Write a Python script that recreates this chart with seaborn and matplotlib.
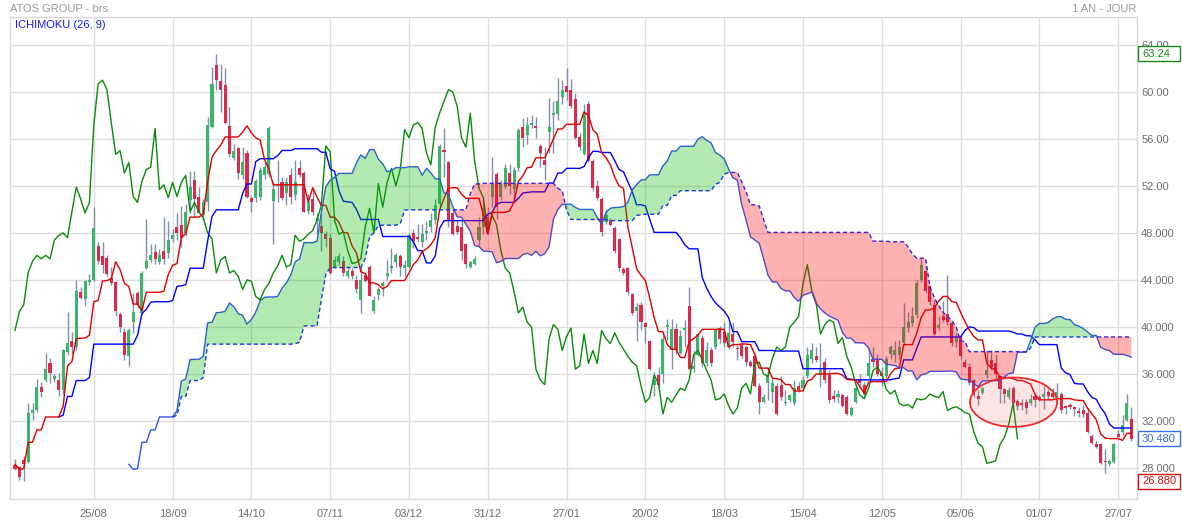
import numpy as np
import pandas as pd
import matplotlib
matplotlib.use("Agg")
import matplotlib.pyplot as plt
import matplotlib.transforms as mtransforms
from matplotlib.patches import Ellipse, Rectangle
import seaborn as sns

# daily candles, oldest first
open_price = [
    28.26, 28.1, 28.7, 28.5, 32.7, 32.9, 34.9, 35.5, 36.9, 35.6,
    35.5, 34.6, 37.9, 38.8, 38.3, 43.0, 42.4, 43.8, 44.0, 46.9,
    46.0, 45.9, 44.2, 43.8, 41.1, 39.6, 37.5, 40.4, 42.9, 41.2,
    45.0, 45.7, 46.4, 45.5, 46.5, 46.3, 47.5, 48.5, 48.7, 48.0,
    50.8, 52.5, 51.1, 49.5, 50.6, 57.0, 62.3, 60.9, 60.6, 57.1,
    54.4, 55.2, 52.9, 54.8, 51.0, 51.0, 51.1, 52.9, 53.0, 50.7,
    52.0, 52.3, 51.4, 52.9, 51.2, 53.5, 53.1, 49.9, 50.9, 49.0,
    48.6, 47.9, 47.6, 45.1, 45.5, 45.6, 44.3, 44.8, 44.0, 42.3,
    44.4, 45.1, 41.4, 42.7, 43.5, 44.3, 45.0, 45.5, 46.0, 45.0,
    45.1, 48.0, 47.6, 47.2, 48.0, 48.5, 49.1, 50.5, 55.1, 54.0,
    49.7, 48.6, 48.5, 47.1, 45.1, 45.4, 47.4, 48.5, 49.4, 51.1,
    53.0, 51.1, 51.9, 53.1, 51.7, 53.5, 57.0, 56.3, 57.2, 57.1,
    55.4, 54.2, 56.6, 58.0, 58.1, 59.6, 60.5, 60.2, 59.4, 56.2,
    54.7, 59.0, 54.1, 52.0, 50.9, 48.9, 49.1, 48.4, 47.5, 44.9,
    45.0, 42.8, 41.4, 41.9, 40.3, 38.8, 35.1, 35.9, 36.0, 40.0,
    38.0, 39.8, 37.8, 39.7, 41.8, 36.4, 37.6, 39.1, 36.9, 38.0,
    38.3, 39.9, 39.6, 38.3, 39.4, 38.2, 38.5, 38.3, 37.0, 37.5,
    35.0, 33.6, 35.2, 34.5, 35.0, 35.1, 33.5, 33.8, 33.5, 35.0,
    34.8, 35.8, 37.3, 37.5, 35.9, 37.0, 35.9, 34.1, 34.0, 34.2,
    34.0, 32.5, 33.6, 35.5, 35.1, 35.8, 37.3, 37.3, 36.1, 35.8,
    37.7, 37.6, 37.6, 38.6, 39.9, 40.3, 41.0, 44.0, 44.8, 43.5,
    41.9, 39.9, 40.9, 41.1, 40.3, 38.7, 39.2, 37.0, 36.6, 35.5,
    34.1, 34.4, 35.9, 37.2, 36.9, 35.8, 34.7, 34.0, 34.8, 33.7,
    33.5, 33.6, 33.5, 34.1, 34.0, 34.0, 34.5, 34.4, 34.0, 34.3,
    33.3, 33.4, 33.2, 32.8, 32.9, 32.7, 30.7, 30.0, 30.0, 28.6,
    28.3, 28.5, 30.9, 31.1, 32.1, 32.2,
]
high_price = [
    28.8, 28.2, 29.0, 33.5, 33.5, 35.6, 35.3, 37.8, 37.4, 36.0,
    36.1, 38.1, 41.3, 39.6, 44.0, 43.4, 44.0, 44.5, 50.2, 47.2,
    47.2, 46.1, 45.1, 43.9, 41.3, 39.9, 39.9, 42.9, 43.1, 44.8,
    49.2, 47.1, 47.1, 46.6, 49.4, 49.0, 48.3, 49.7, 50.3, 50.5,
    53.3, 53.3, 51.9, 50.9, 57.9, 62.1, 63.24, 62.4, 62.0, 58.7,
    55.6, 55.3, 55.3, 55.1, 51.2, 52.6, 53.6, 54.0, 57.1, 52.3,
    54.2, 52.8, 52.8, 53.5, 54.2, 54.2, 53.3, 51.3, 51.8, 49.7,
    49.7, 48.2, 47.9, 46.0, 46.3, 46.0, 45.1, 45.0, 44.4, 45.1,
    44.6, 45.3, 42.6, 43.4, 43.9, 45.7, 46.7, 46.3, 46.2, 45.7,
    48.0, 48.3, 48.8, 48.8, 49.0, 49.7, 50.9, 55.6, 56.9, 54.1,
    50.0, 49.1, 49.1, 47.1, 45.6, 46.0, 49.4, 50.8, 50.2, 54.5,
    53.2, 52.5, 53.9, 53.9, 53.6, 56.9, 57.8, 57.9, 58.0, 57.9,
    55.6, 55.3, 59.5, 59.2, 61.2, 61.0, 62.0, 61.1, 59.9, 56.5,
    59.0, 59.2, 54.3, 52.5, 51.1, 50.0, 49.3, 48.6, 47.5, 45.1,
    45.1, 42.9, 42.0, 42.1, 40.4, 38.9, 36.2, 36.6, 39.4, 40.7,
    40.7, 40.3, 39.7, 40.6, 43.4, 38.0, 39.5, 39.3, 38.7, 38.3,
    39.8, 40.1, 40.4, 40.3, 40.4, 38.5, 38.7, 38.5, 37.2, 37.7,
    35.2, 34.3, 36.6, 35.7, 35.2, 35.8, 34.6, 34.3, 35.5, 35.3,
    35.8, 38.3, 38.6, 38.3, 38.6, 37.4, 36.3, 34.6, 34.6, 34.4,
    34.2, 33.3, 35.0, 36.0, 35.3, 38.2, 38.3, 37.7, 36.6, 37.5,
    38.5, 38.8, 38.9, 42.0, 41.3, 41.7, 44.0, 45.9, 45.2, 43.6,
    42.3, 40.9, 42.2, 44.4, 40.4, 39.6, 39.3, 37.3, 36.9, 35.6,
    34.6, 34.9, 38.0, 38.0, 37.7, 35.9, 34.8, 34.9, 35.0, 33.9,
    33.9, 33.9, 34.3, 34.4, 34.2, 35.0, 34.7, 34.8, 35.2, 34.5,
    33.4, 33.5, 33.3, 33.2, 33.4, 33.1, 30.9, 30.3, 30.1, 29.6,
    28.8, 30.1, 31.2, 32.5, 34.3, 33.2,
]
low_price = [
    27.83, 26.98, 26.88, 28.4, 32.1, 32.8, 34.0, 35.3, 35.2, 35.3,
    34.1, 34.3, 37.6, 37.7, 38.0, 42.4, 41.8, 43.6, 43.9, 45.4,
    44.6, 44.3, 43.6, 40.9, 39.6, 37.2, 36.7, 39.5, 41.6, 41.1,
    44.9, 45.5, 45.4, 45.4, 45.4, 45.9, 47.2, 47.4, 46.8, 47.7,
    49.7, 49.4, 49.7, 49.1, 49.9, 56.9, 60.2, 58.3, 57.3, 54.5,
    54.2, 52.6, 52.6, 51.0, 49.8, 50.6, 50.8, 52.6, 52.8, 47.1,
    50.6, 50.8, 50.4, 50.5, 50.8, 52.8, 49.8, 49.6, 49.5, 47.9,
    46.5, 46.8, 44.5, 45.0, 45.3, 44.3, 44.2, 44.1, 42.9, 41.2,
    43.8, 42.6, 41.2, 42.3, 42.6, 44.0, 44.6, 45.1, 44.3, 44.3,
    45.0, 46.7, 47.2, 46.8, 47.4, 48.1, 48.8, 50.2, 52.8, 48.5,
    47.8, 47.9, 45.7, 45.0, 45.0, 45.3, 46.8, 47.9, 47.9, 50.2,
    49.2, 50.8, 51.7, 51.3, 50.8, 53.3, 55.3, 55.6, 56.9, 56.1,
    53.6, 52.5, 54.8, 54.8, 57.6, 59.0, 59.3, 58.6, 56.0, 55.1,
    54.6, 54.0, 51.6, 50.8, 47.7, 48.8, 48.6, 46.3, 44.8, 44.4,
    42.7, 41.0, 38.8, 39.7, 38.6, 36.3, 34.1, 34.6, 35.2, 38.9,
    36.4, 37.7, 37.7, 38.3, 36.3, 36.2, 37.5, 36.6, 36.7, 36.7,
    38.1, 38.6, 38.3, 38.1, 38.3, 37.2, 37.4, 36.7, 36.6, 34.9,
    32.6, 33.5, 33.8, 33.5, 32.5, 33.8, 33.4, 33.6, 33.4, 34.5,
    34.6, 35.7, 36.9, 37.0, 34.9, 35.2, 33.5, 33.6, 33.5, 33.2,
    32.5, 32.4, 33.5, 34.8, 34.1, 35.7, 36.6, 35.8, 35.0, 35.7,
    37.3, 37.0, 37.3, 38.5, 39.6, 40.1, 40.8, 43.8, 42.9, 41.9,
    39.3, 39.7, 40.4, 40.2, 38.4, 38.3, 37.3, 36.5, 35.1, 34.0,
    33.4, 34.3, 35.7, 36.3, 35.7, 33.5, 33.5, 33.9, 33.2, 32.9,
    32.9, 32.6, 33.4, 33.2, 33.7, 33.0, 33.9, 33.9, 33.5, 32.7,
    32.6, 33.0, 32.4, 32.3, 32.3, 31.0, 30.0, 29.7, 28.3, 27.6,
    28.2, 28.4, 30.6, 30.8, 32.0, 30.3,
]
close_price = [
    27.9, 27.2, 28.3, 32.7, 32.9, 34.9, 34.5, 36.4, 36.1, 35.8,
    34.6, 38.0, 38.6, 38.3, 43.1, 42.5, 43.9, 44.0, 48.4, 45.6,
    45.3, 44.5, 43.7, 41.4, 40.0, 37.6, 39.7, 41.3, 41.9, 44.6,
    45.6, 46.1, 45.8, 46.1, 45.8, 47.4, 47.8, 48.0, 47.6, 49.8,
    51.9, 50.9, 49.7, 50.6, 57.2, 60.7, 61.0, 60.2, 57.4, 54.7,
    55.0, 53.1, 54.0, 51.1, 50.6, 52.4, 53.4, 53.6, 56.9, 51.7,
    52.1, 51.0, 52.3, 51.1, 52.3, 52.9, 49.8, 50.6, 49.8, 49.3,
    48.0, 47.5, 44.6, 45.7, 46.0, 44.6, 44.8, 44.3, 43.2, 44.0,
    43.9, 42.6, 42.3, 43.2, 43.7, 44.6, 45.2, 46.1, 45.1, 45.3,
    47.8, 47.3, 47.5, 47.9, 48.2, 49.1, 50.4, 55.4, 54.9, 49.1,
    47.9, 48.1, 46.5, 45.4, 45.5, 45.8, 48.5, 50.1, 48.0, 52.2,
    50.2, 52.3, 53.5, 52.0, 53.4, 56.8, 56.1, 57.2, 57.4, 56.9,
    54.8, 53.8, 57.0, 58.2, 59.2, 60.2, 60.0, 58.8, 56.1, 55.3,
    58.2, 54.1, 51.8, 51.0, 48.1, 49.5, 48.7, 46.5, 45.0, 44.6,
    43.0, 41.2, 41.7, 40.4, 40.0, 36.4, 35.5, 35.1, 39.0, 40.2,
    39.8, 38.0, 39.2, 39.9, 36.4, 36.7, 39.4, 36.9, 38.0, 36.9,
    39.7, 39.0, 38.6, 39.5, 38.7, 38.1, 37.5, 37.0, 36.7, 35.0,
    33.6, 34.0, 35.9, 35.2, 32.6, 34.0, 33.6, 34.2, 34.8, 34.6,
    35.5, 37.6, 38.0, 37.2, 36.3, 35.5, 33.8, 33.9, 34.3, 33.3,
    32.6, 33.1, 34.8, 35.2, 34.3, 36.9, 37.0, 36.0, 35.8, 37.3,
    38.3, 38.0, 38.3, 40.0, 40.4, 40.9, 43.7, 45.3, 43.1, 42.1,
    39.4, 40.2, 40.6, 40.4, 38.6, 39.1, 37.5, 36.6, 35.2, 34.2,
    33.9, 34.8, 36.3, 36.6, 36.0, 34.7, 34.3, 34.6, 33.5, 33.3,
    33.4, 33.1, 33.9, 33.8, 33.9, 34.3, 34.1, 34.0, 34.5, 32.9,
    33.1, 33.2, 33.0, 32.7, 32.6, 31.1, 30.1, 29.8, 28.4, 28.5,
    28.6, 30.0, 30.6, 31.7, 33.5, 30.48,
]

date_ticks = [18, 36, 54, 72, 90, 108, 126, 144, 162, 180, 198, 216, 234, 252]
date_labels = ["25/08", "18/09", "14/10", "07/11", "03/12", "31/12", "27/01",
               "20/02", "18/03", "15/04", "12/05", "05/06", "01/07", "27/07"]
price_ticks = [28, 32, 36, 40, 44, 48, 52, 56, 60, 64]
price_labels = ["28.000", "32.000", "36.000", "40.000", "44.000", "48.000",
                "52.00", "56.00", "60.00", "64.00"]

# hand drawn circle on the chart (candle index, price)
circle_center = (228.1, 33.6)
circle_size = (19.9, 4.2)

TENKAN, KIJUN, SPAN_B, SHIFT = 9, 26, 52, 26

df = pd.DataFrame({"open": open_price, "high": high_price,
                   "low": low_price, "close": close_price})
df["i"] = np.arange(len(df))

hi, lo = df["high"], df["low"]
df["tenkan"] = (hi.rolling(TENKAN, min_periods=1).max() + lo.rolling(TENKAN, min_periods=1).min()) / 2
df["kijun"] = (hi.rolling(KIJUN, min_periods=11).max() + lo.rolling(KIJUN, min_periods=11).min()) / 2
df["span_a"] = df[["tenkan", "kijun"]].mean(axis=1).shift(SHIFT)
df["span_b"] = ((hi.rolling(SPAN_B, min_periods=11).max() + lo.rolling(SPAN_B, min_periods=11).min()) / 2).shift(SHIFT)
df["chikou"] = df["close"].shift(-SHIFT)

sns.set_theme(style="white")
plt.rcParams["font.family"] = ["Liberation Sans", "DejaVu Sans"]

W, H = 1182, 526
fig = plt.figure(figsize=(W / 100, H / 100), dpi=100)
ax = fig.add_axes([10 / W, 1 - 499 / H, 1127 / W, 482 / H])

green, red, wick = "#3cb46a", "#dc2a4c", "#7d91a8"
up = df["close"] >= df["open"]
body_lo = np.minimum(df["open"], df["close"])
body_h = np.maximum((df["close"] - df["open"]).abs(), 0.12)

ax.vlines(df["i"], df["low"], df["high"], color=wick, lw=1, zorder=2)
ax.bar(df["i"][up], body_h[up], bottom=body_lo[up], width=0.7, color=green, lw=0, zorder=3)
ax.bar(df["i"][~up], body_h[~up], bottom=body_lo[~up], width=0.7, color=red, lw=0, zorder=3)

sns.lineplot(data=df, x="i", y="chikou", color="#0a8a0a", lw=1, ax=ax, zorder=4)
sns.lineplot(data=df, x="i", y="kijun", color="#0000ff", lw=1, ax=ax, zorder=4)
sns.lineplot(data=df, x="i", y="tenkan", color="#dd0000", lw=1, ax=ax, zorder=4)
sns.lineplot(data=df, x="i", y="span_a", color="#3355ee", lw=1, ax=ax, zorder=4)
sns.lineplot(data=df, x="i", y="span_b", color="#2222ff", lw=1, ls=(0, (3, 2)), ax=ax, zorder=4)

cloud = df.dropna(subset=["span_a", "span_b"])
ax.fill_between(cloud["i"], cloud["span_a"], cloud["span_b"],
                where=cloud["span_a"] >= cloud["span_b"], interpolate=True,
                color="#00bb00", alpha=0.3, lw=0, zorder=5)
ax.fill_between(cloud["i"], cloud["span_a"], cloud["span_b"],
                where=cloud["span_a"] < cloud["span_b"], interpolate=True,
                color="#ff0000", alpha=0.3, lw=0, zorder=5)

ax.add_patch(Ellipse(circle_center, circle_size[0], circle_size[1],
                     facecolor=(0.95, 0.3, 0.3, 0.14), edgecolor="#ee2a2a", lw=1.3, zorder=6))

ax.set_xlim(-1.14, 256.3)
ax.set_ylim(25.36, 66.38)
ax.set_xticks(date_ticks)
ax.set_xticklabels(date_labels)
ax.yaxis.tick_right()
ax.set_yticks(price_ticks)
ax.set_yticklabels(price_labels)
ax.tick_params(length=0, labelsize=8, colors="#6e6e6e")
ax.tick_params(axis="x", pad=7)
ax.tick_params(axis="y", pad=3)
ax.set_xlabel("")
ax.set_ylabel("")
ax.grid(True, color="#dedede", lw=1)
ax.set_axisbelow(True)
for sp in ax.spines.values():
    sp.set_color("#d8d8d8")
    sp.set_linewidth(1)

# last / high / low markers on the price scale
trans = mtransforms.blended_transform_factory(fig.transFigure, ax.transData)
markers = [(max(high_price), "%.2f", "#1a8a1a"),
           (close_price[-1], "%.3f", "#3a6df0"),
           (min(low_price), "%.3f", "#cc1111")]
for val, fmt, col in markers:
    ax.add_patch(Rectangle((1138 / W, val - 0.64), 42 / W, 1.28, transform=trans,
                           facecolor="white", edgecolor=col, lw=1, clip_on=False, zorder=10))
    ax.text(1142 / W, val, fmt % val, transform=trans, color=col, fontsize=8,
            ha="left", va="center", zorder=11, clip_on=False)

fig.text(10 / W, 1 - 9 / H, "ATOS GROUP - brs", color="#999999", fontsize=8, ha="left", va="center")
fig.text(1136 / W, 1 - 9 / H, "1 AN - JOUR", color="#999999", fontsize=8, ha="right", va="center")
fig.text(15 / W, 1 - 25 / H, "ICHIMOKU (26, 9)", color="#1a1aee", fontsize=8, ha="left", va="center")

fig.savefig("out.png", dpi=100)
